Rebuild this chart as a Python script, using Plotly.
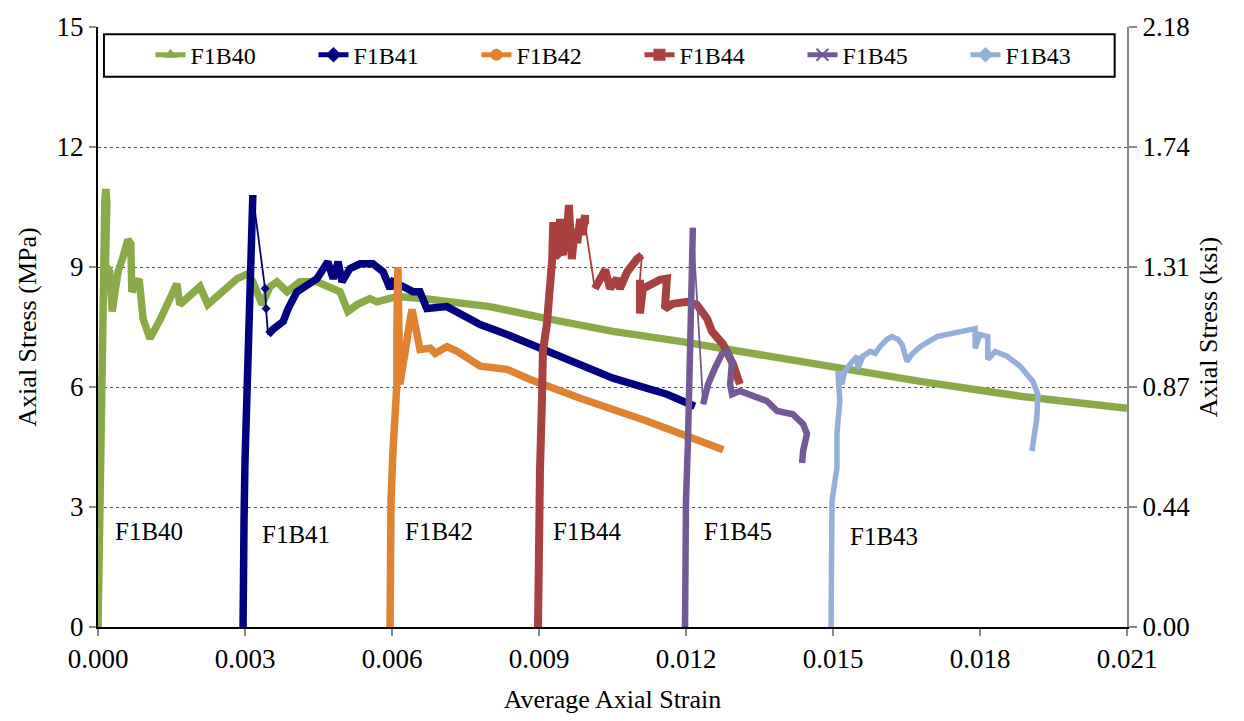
import plotly.graph_objects as go

# ---------------- data (strain, MPa) ----------------
series_names = ["F1B40", "F1B41", "F1B42", "F1B44", "F1B45", "F1B43"]

strain_F1B40 = [0, 0.00002, 0.00002, 0.00004, 0.00006, 0.00008, 0.0001, 0.00012, 0.00014, 0.00016, 0.00018,
                0.00014, 0.00018, 0.00024, 0.00029, 0.00035, 0.00041, 0.00051, 0.00061, 0.00067, 0.00069,
                0.00078, 0.00084, 0.00092, 0.00106, 0.00127, 0.00147, 0.00161, 0.00167, 0.00188, 0.00208,
                0.00224, 0.00249, 0.00284, 0.00306, 0.00316, 0.00335, 0.00351, 0.00365, 0.00386, 0.00412,
                0.00447, 0.00494, 0.0051, 0.00529, 0.00555, 0.00569, 0.0061, 0.00663, 0.008, 0.00916,
                0.01051, 0.01188, 0.0131, 0.01508, 0.01678, 0.01882, 0.021]
stress_F1B40 = [0, 1.67, 3.16, 4.65, 6.14, 7.64, 8.63, 9.63, 10.62, 10.95, 10.6,
                8.4, 9.0, 8.88, 7.89, 8.4, 8.88, 9.25, 9.68, 9.58, 8.38,
                8.58, 8.7, 7.71, 7.21, 7.69, 8.18, 8.58, 8.06, 8.31, 8.51,
                8.06, 8.33, 8.71, 8.83, 8.63, 8.06, 8.51, 8.63, 8.38, 8.63,
                8.63, 8.38, 7.89, 8.06, 8.21, 8.13, 8.26, 8.21, 8.01, 7.71,
                7.39, 7.14, 6.89, 6.47, 6.14, 5.77, 5.47]

strain_F1B41 = [0.00296, 0.00296, 0.00298, 0.003, 0.00304, 0.00306, 0.0031, 0.00312, 0.00316,
                0.00341, 0.00343, 0.00347, 0.00357, 0.00378, 0.00388, 0.00406, 0.00427, 0.00447,
                0.00469, 0.0048, 0.0049, 0.00498, 0.00514, 0.00535, 0.00561, 0.00582, 0.00596,
                0.00602, 0.00631, 0.00643, 0.00657, 0.00671, 0.00712, 0.0078, 0.00835, 0.00916,
                0.01051, 0.01161, 0.01218]
stress_F1B41 = [0, 1.17, 2.66, 4.15, 5.65, 7.14, 8.63, 9.88, 10.8,
                8.46, 7.96, 7.31, 7.44, 7.64, 7.96, 8.38, 8.56, 8.71,
                9.13, 8.71, 9.13, 8.63, 8.96, 9.08, 9.08, 8.88, 8.46,
                8.63, 8.46, 8.38, 8.38, 7.96, 8.01, 7.56, 7.31, 6.89,
                6.22, 5.82, 5.52]

strain_F1B42 = [0.00596, 0.00596, 0.00598, 0.00602, 0.00606, 0.0061, 0.0061, 0.00612, 0.00616,
                0.0062, 0.00627, 0.00637, 0.00641, 0.00645, 0.00651, 0.00657, 0.00678, 0.00688,
                0.00712, 0.00733, 0.0078, 0.00835, 0.00882, 0.00984, 0.0112, 0.01276]
stress_F1B42 = [0, 1.67, 3.16, 4.4, 5.47, 6.07, 7.39, 9.0, 6.07,
                6.52, 6.89, 7.69, 7.94, 7.69, 7.21, 6.94, 6.97, 6.84,
                7.01, 6.89, 6.52, 6.44, 6.19, 5.72, 5.15, 4.43]

strain_F1B44 = [0.00898, 0.00898, 0.009, 0.00902, 0.00906, 0.00908, 0.00916, 0.00927, 0.00929,
                0.00933, 0.00937, 0.00943, 0.00946, 0.00949, 0.00953, 0.00957, 0.00961, 0.00964,
                0.00967, 0.00973, 0.00978, 0.00984, 0.00989, 0.00994, 0.00994,
                0.01014, 0.01024, 0.01035, 0.01045, 0.01059, 0.01065, 0.0108, 0.011, 0.0111,
                0.01106, 0.01106, 0.01112, 0.01131, 0.01147, 0.01161, 0.01161, 0.01157, 0.01173,
                0.01202, 0.01222, 0.01243, 0.01253, 0.01276, 0.01296, 0.0131]
stress_F1B44 = [0, 1.67, 3.16, 3.91, 5.65, 6.89, 7.56, 9.2, 10.12,
                9.25, 9.3, 10.2, 9.4, 9.3, 10.0, 9.88, 10.55, 9.6,
                9.2, 9.95, 9.6, 10.2, 9.8, 10.3, 10.07,
                8.46, 8.71, 8.93, 8.46, 8.71, 8.46, 8.88, 9.2, 9.3,
                8.68, 7.84, 8.46, 8.58, 8.68, 8.71, 8.46, 7.96, 8.08,
                8.13, 8.06, 7.71, 7.39, 7.06, 6.57, 6.07]

strain_F1B45 = [0.01198, 0.01198, 0.012, 0.01204, 0.01206, 0.01208, 0.0121, 0.01214,
                0.01235, 0.01245, 0.01259, 0.01273, 0.01284, 0.01294, 0.0129, 0.01294, 0.0131,
                0.01337, 0.01365, 0.01386, 0.01418, 0.01439, 0.01447, 0.01439, 0.01437]
stress_F1B45 = [0, 1.67, 3.16, 4.65, 6.14, 7.64, 8.88, 9.98,
                5.57, 6.07, 6.47, 6.82, 6.89, 6.64, 6.07, 5.82, 5.9,
                5.77, 5.65, 5.4, 5.32, 5.07, 4.83, 4.4, 4.1]

strain_F1B43 = [0.01496, 0.01496, 0.01498, 0.01508, 0.01508, 0.01514, 0.0151, 0.01518, 0.01524,
                0.01535, 0.01549, 0.01551, 0.01561, 0.01576, 0.01586, 0.01596, 0.0161, 0.0162,
                0.01633, 0.01641, 0.01647, 0.01651, 0.01661, 0.01678, 0.01712, 0.01759, 0.0179,
                0.0179, 0.018, 0.01816, 0.01816, 0.01831, 0.01855, 0.01882, 0.01908, 0.01918,
                0.01916, 0.01906]
stress_F1B43 = [0, 1.67, 3.16, 3.98, 4.83, 5.65, 6.39, 6.07, 6.39,
                6.57, 6.77, 6.47, 6.77, 6.89, 6.84, 7.01, 7.19, 7.26,
                7.19, 7.06, 6.82, 6.64, 6.82, 7.01, 7.26, 7.39, 7.46,
                6.97, 7.31, 7.26, 6.69, 6.89, 6.77, 6.52, 6.14, 5.82,
                5.22, 4.4]

# index ranges drawn as thin connectors (sparse data)
thin_ranges = {"F1B40": [], "F1B41": [(8, 11)], "F1B42": [], "F1B44": [(24, 25), (33, 34)],
               "F1B45": [(7, 8)], "F1B43": []}

# label annotations (strain, MPa)
label_text = ["F1B40", "F1B41", "F1B42", "F1B44", "F1B45", "F1B43"]
label_strain = [0.00031, 0.00331, 0.00622, 0.00924, 0.01233, 0.01531]
label_stress = [2.39, 2.31, 2.39, 2.39, 2.39, 2.26]

# axis ticks
x_ticks = [0, 0.003, 0.006, 0.009, 0.012, 0.015, 0.018, 0.021]
y_ticks = [0, 3, 6, 9, 12, 15]
ksi_ticktext = ["0.00", "0.44", "0.87", "1.31", "1.74", "2.18"]

# ---------------- styles ----------------
colors = {"F1B40": "#8AAA4A", "F1B41": "#000080", "F1B42": "#E08232",
          "F1B44": "#AA4141", "F1B45": "#735A96", "F1B43": "#94AFD9"}
symbols = {"F1B40": "triangle-up", "F1B41": "diamond", "F1B42": "circle",
           "F1B44": "square", "F1B45": "x-thin", "F1B43": "diamond"}
thick = {"F1B40": 7.5, "F1B41": 7.5, "F1B42": 7.5, "F1B44": 8, "F1B45": 6.5, "F1B43": 5.5}

data = {
    "F1B40": (strain_F1B40, stress_F1B40),
    "F1B41": (strain_F1B41, stress_F1B41),
    "F1B42": (strain_F1B42, stress_F1B42),
    "F1B44": (strain_F1B44, stress_F1B44),
    "F1B45": (strain_F1B45, stress_F1B45),
    "F1B43": (strain_F1B43, stress_F1B43),
}

FONT = "'Liberation Serif', 'Times New Roman', Times, serif"
ftick = dict(family=FONT, size=27, color="black")
ftitle = dict(family=FONT, size=26, color="black")
fleg = dict(family=FONT, size=24, color="black")
fig = go.Figure()

# legend entries
for name in series_names:
    fig.add_trace(go.Scatter(
        x=[None], y=[None], mode="lines+markers", name=name,
        line=dict(color=colors[name], width=1.5),
        marker=dict(symbol=symbols[name], size=6 if name != "F1B43" else 4, color=colors[name],
                    line=dict(color=colors[name], width=1.2 if name == "F1B45" else 0)),
        showlegend=True))

for name in series_names:
    xs, ys = data[name]
    fig.add_trace(go.Scatter(x=xs, y=ys, mode="lines", line=dict(color=colors[name], width=1.8),
                             showlegend=False, hoverinfo="skip"))
    tx, ty = [], []
    breaks = thin_ranges[name]
    for i in range(len(xs)):
        if any(a < i < b for a, b in breaks):
            continue
        tx.append(xs[i]); ty.append(ys[i])
        if any(i == a for a, b in breaks):
            tx.append(None); ty.append(None)
    fig.add_trace(go.Scatter(x=tx, y=ty, mode="lines",
                             line=dict(color=colors[name], width=thick[name]),
                             connectgaps=False, showlegend=False, name=name))
    for a, b in breaks:
        fig.add_trace(go.Scatter(x=xs[a + 1:b], y=ys[a + 1:b], mode="markers",
                                 marker=dict(color=colors[name], size=7, symbol=symbols[name]),
                                 showlegend=False, hoverinfo="skip"))

fig.add_trace(go.Scatter(x=[None], y=[None], yaxis="y2", showlegend=False))

for t, sx, sy in zip(label_text, label_strain, label_stress):
    fig.add_annotation(x=sx, y=sy, text=t, showarrow=False, xanchor="left", yanchor="middle",
                       font=dict(family=FONT, size=25, color="black"))

fig.add_shape(type="rect", xref="paper", yref="paper", x0=0.0058, x1=0.988, y0=0.917, y1=0.988,
              line=dict(color="black", width=2), fillcolor="white", layer="above")

fig.update_layout(
    width=1244, height=721,
    margin=dict(l=98, r=117, t=22, b=94),
    paper_bgcolor="white", plot_bgcolor="white",
    font=ftick,
    showlegend=True,
    legend=dict(orientation="h", x=0.051, xanchor="left", y=0.953, yanchor="middle",
                bgcolor="rgba(0,0,0,0)", borderwidth=0, entrywidth=118,
                font=fleg, itemsizing="constant"),
    xaxis=dict(range=[0, 0.021], tickvals=x_ticks, tickformat=".3f", showgrid=False, zeroline=False,
               showline=True, linecolor="black", linewidth=2, ticks="outside", tickcolor="#888",
               ticklen=7, tickwidth=1.5, tickfont=ftick,
               title=dict(text="Average Axial Strain", standoff=16, font=ftitle)),
    yaxis=dict(range=[0, 15], tickvals=y_ticks, showgrid=True, gridcolor="#555", griddash="dot",
               gridwidth=1, zeroline=False, showline=True, linecolor="black", linewidth=2,
               ticks="outside", tickcolor="#888", ticklen=7, tickwidth=1.5, tickfont=ftick,
               title=dict(text="Axial Stress (MPa)", standoff=12, font=ftitle)),
    yaxis2=dict(range=[0, 15], overlaying="y", side="right", tickvals=y_ticks, ticktext=ksi_ticktext,
                showgrid=False, zeroline=False, showline=True, linecolor="#888", linewidth=2,
                ticks="outside", tickcolor="#888", ticklen=8, tickwidth=1.5, tickfont=ftick,
                title=dict(text="Axial Stress (ksi)", standoff=10, font=ftitle)),
)

fig.write_html("out.html")
